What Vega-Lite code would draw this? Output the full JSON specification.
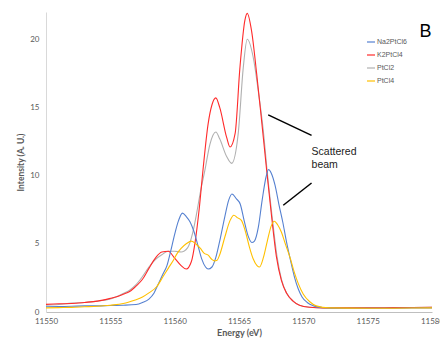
{
  "$schema": "https://vega.github.io/schema/vega-lite/v6.json",
  "autosize": {"type": "none"},
  "padding": {"left": 46, "top": 12, "right": 8, "bottom": 29},
  "width": 386,
  "height": 300,
  "background": "white",
  "config": {
    "view": {"stroke": null},
    "font": "Lato",
    "axis": {"grid": false, "ticks": false, "labelColor": "#595959", "titleColor": "#595959", "labelFontSize": 8, "titleFontSize": 8.5, "titleFontWeight": "bold"}
  },
  "datasets": {
    "spectra": [
      {"E": 11550, "I": 0.38, "s": "Na2PtCl6"}, {"E": 11551, "I": 0.4, "s": "Na2PtCl6"}, {"E": 11552, "I": 0.42, "s": "Na2PtCl6"}, {"E": 11553, "I": 0.45, "s": "Na2PtCl6"}, {"E": 11554, "I": 0.45, "s": "Na2PtCl6"}, {"E": 11555, "I": 0.48, "s": "Na2PtCl6"}, {"E": 11556, "I": 0.5, "s": "Na2PtCl6"}, {"E": 11557, "I": 0.55, "s": "Na2PtCl6"}, {"E": 11557.5, "I": 0.7, "s": "Na2PtCl6"}, {"E": 11558, "I": 0.95, "s": "Na2PtCl6"}, {"E": 11558.4, "I": 1.4, "s": "Na2PtCl6"}, {"E": 11558.7, "I": 2.0, "s": "Na2PtCl6"}, {"E": 11559.1, "I": 2.8, "s": "Na2PtCl6"}, {"E": 11559.4, "I": 3.4, "s": "Na2PtCl6"}, {"E": 11559.7, "I": 4.5, "s": "Na2PtCl6"}, {"E": 11560, "I": 5.7, "s": "Na2PtCl6"}, {"E": 11560.3, "I": 6.7, "s": "Na2PtCl6"}, {"E": 11560.6, "I": 7.25, "s": "Na2PtCl6"}, {"E": 11560.9, "I": 7.0, "s": "Na2PtCl6"}, {"E": 11561.2, "I": 6.6, "s": "Na2PtCl6"}, {"E": 11561.5, "I": 5.9, "s": "Na2PtCl6"}, {"E": 11561.8, "I": 4.9, "s": "Na2PtCl6"}, {"E": 11562.1, "I": 3.9, "s": "Na2PtCl6"}, {"E": 11562.4, "I": 3.3, "s": "Na2PtCl6"}, {"E": 11562.6, "I": 3.15, "s": "Na2PtCl6"}, {"E": 11562.9, "I": 3.3, "s": "Na2PtCl6"}, {"E": 11563.2, "I": 4.0, "s": "Na2PtCl6"}, {"E": 11563.5, "I": 5.2, "s": "Na2PtCl6"}, {"E": 11563.9, "I": 7.0, "s": "Na2PtCl6"}, {"E": 11564.2, "I": 8.2, "s": "Na2PtCl6"}, {"E": 11564.45, "I": 8.65, "s": "Na2PtCl6"}, {"E": 11564.8, "I": 8.3, "s": "Na2PtCl6"}, {"E": 11565.1, "I": 7.9, "s": "Na2PtCl6"}, {"E": 11565.4, "I": 6.7, "s": "Na2PtCl6"}, {"E": 11565.7, "I": 5.6, "s": "Na2PtCl6"}, {"E": 11566.0, "I": 5.1, "s": "Na2PtCl6"}, {"E": 11566.2, "I": 5.2, "s": "Na2PtCl6"}, {"E": 11566.5, "I": 6.2, "s": "Na2PtCl6"}, {"E": 11566.8, "I": 8.2, "s": "Na2PtCl6"}, {"E": 11567.1, "I": 9.9, "s": "Na2PtCl6"}, {"E": 11567.3, "I": 10.45, "s": "Na2PtCl6"}, {"E": 11567.5, "I": 10.2, "s": "Na2PtCl6"}, {"E": 11567.8, "I": 9.3, "s": "Na2PtCl6"}, {"E": 11568.1, "I": 7.9, "s": "Na2PtCl6"}, {"E": 11568.4, "I": 6.6, "s": "Na2PtCl6"}, {"E": 11568.7, "I": 5.1, "s": "Na2PtCl6"}, {"E": 11569.0, "I": 3.8, "s": "Na2PtCl6"}, {"E": 11569.3, "I": 2.6, "s": "Na2PtCl6"}, {"E": 11569.6, "I": 1.7, "s": "Na2PtCl6"}, {"E": 11569.9, "I": 1.1, "s": "Na2PtCl6"}, {"E": 11570.3, "I": 0.7, "s": "Na2PtCl6"}, {"E": 11570.8, "I": 0.45, "s": "Na2PtCl6"}, {"E": 11571.5, "I": 0.32, "s": "Na2PtCl6"}, {"E": 11573, "I": 0.27, "s": "Na2PtCl6"}, {"E": 11575, "I": 0.27, "s": "Na2PtCl6"}, {"E": 11577, "I": 0.28, "s": "Na2PtCl6"}, {"E": 11580, "I": 0.3, "s": "Na2PtCl6"},

      {"E": 11550, "I": 0.56, "s": "K2PtCl4"}, {"E": 11551, "I": 0.6, "s": "K2PtCl4"}, {"E": 11552, "I": 0.62, "s": "K2PtCl4"}, {"E": 11553, "I": 0.7, "s": "K2PtCl4"}, {"E": 11554, "I": 0.8, "s": "K2PtCl4"}, {"E": 11555, "I": 1.0, "s": "K2PtCl4"}, {"E": 11555.5, "I": 1.12, "s": "K2PtCl4"}, {"E": 11556, "I": 1.3, "s": "K2PtCl4"}, {"E": 11556.5, "I": 1.5, "s": "K2PtCl4"}, {"E": 11557, "I": 1.9, "s": "K2PtCl4"}, {"E": 11557.5, "I": 2.4, "s": "K2PtCl4"}, {"E": 11558, "I": 3.2, "s": "K2PtCl4"}, {"E": 11558.5, "I": 3.95, "s": "K2PtCl4"}, {"E": 11559, "I": 4.4, "s": "K2PtCl4"}, {"E": 11559.5, "I": 4.45, "s": "K2PtCl4"}, {"E": 11560, "I": 3.95, "s": "K2PtCl4"}, {"E": 11560.5, "I": 3.4, "s": "K2PtCl4"}, {"E": 11560.9, "I": 3.15, "s": "K2PtCl4"}, {"E": 11561.3, "I": 3.7, "s": "K2PtCl4"}, {"E": 11561.6, "I": 5.2, "s": "K2PtCl4"}, {"E": 11561.9, "I": 7.5, "s": "K2PtCl4"}, {"E": 11562.2, "I": 10.4, "s": "K2PtCl4"}, {"E": 11562.6, "I": 13.8, "s": "K2PtCl4"}, {"E": 11562.9, "I": 15.2, "s": "K2PtCl4"}, {"E": 11563.2, "I": 15.7, "s": "K2PtCl4"}, {"E": 11563.5, "I": 15.0, "s": "K2PtCl4"}, {"E": 11564.04, "I": 12.8, "s": "K2PtCl4"}, {"E": 11564.3, "I": 12.1, "s": "K2PtCl4"}, {"E": 11564.7, "I": 13.1, "s": "K2PtCl4"}, {"E": 11565.07, "I": 17.9, "s": "K2PtCl4"}, {"E": 11565.46, "I": 21.4, "s": "K2PtCl4"}, {"E": 11565.64, "I": 21.9, "s": "K2PtCl4"}, {"E": 11565.98, "I": 20.6, "s": "K2PtCl4"}, {"E": 11566.37, "I": 17.5, "s": "K2PtCl4"}, {"E": 11566.76, "I": 14.0, "s": "K2PtCl4"}, {"E": 11567.15, "I": 10.4, "s": "K2PtCl4"}, {"E": 11567.5, "I": 7.3, "s": "K2PtCl4"}, {"E": 11567.9, "I": 4.1, "s": "K2PtCl4"}, {"E": 11568.3, "I": 2.3, "s": "K2PtCl4"}, {"E": 11568.7, "I": 1.37, "s": "K2PtCl4"}, {"E": 11569.2, "I": 0.8, "s": "K2PtCl4"}, {"E": 11569.7, "I": 0.5, "s": "K2PtCl4"}, {"E": 11570.5, "I": 0.35, "s": "K2PtCl4"}, {"E": 11571.5, "I": 0.3, "s": "K2PtCl4"}, {"E": 11573, "I": 0.3, "s": "K2PtCl4"}, {"E": 11575, "I": 0.3, "s": "K2PtCl4"}, {"E": 11577, "I": 0.32, "s": "K2PtCl4"}, {"E": 11580, "I": 0.35, "s": "K2PtCl4"},

      {"E": 11550, "I": 0.5, "s": "PtCl2"}, {"E": 11551, "I": 0.55, "s": "PtCl2"}, {"E": 11552, "I": 0.65, "s": "PtCl2"}, {"E": 11553, "I": 0.7, "s": "PtCl2"}, {"E": 11554, "I": 0.8, "s": "PtCl2"}, {"E": 11555, "I": 0.95, "s": "PtCl2"}, {"E": 11556, "I": 1.35, "s": "PtCl2"}, {"E": 11556.5, "I": 1.6, "s": "PtCl2"}, {"E": 11557, "I": 2.0, "s": "PtCl2"}, {"E": 11557.5, "I": 2.6, "s": "PtCl2"}, {"E": 11558, "I": 3.3, "s": "PtCl2"}, {"E": 11558.5, "I": 3.85, "s": "PtCl2"}, {"E": 11559, "I": 4.2, "s": "PtCl2"}, {"E": 11559.5, "I": 4.45, "s": "PtCl2"}, {"E": 11560, "I": 4.45, "s": "PtCl2"}, {"E": 11560.5, "I": 4.4, "s": "PtCl2"}, {"E": 11561, "I": 4.7, "s": "PtCl2"}, {"E": 11561.4, "I": 5.8, "s": "PtCl2"}, {"E": 11561.7, "I": 7.2, "s": "PtCl2"}, {"E": 11562.0, "I": 8.8, "s": "PtCl2"}, {"E": 11562.35, "I": 10.4, "s": "PtCl2"}, {"E": 11562.74, "I": 12.3, "s": "PtCl2"}, {"E": 11563.2, "I": 13.2, "s": "PtCl2"}, {"E": 11563.5, "I": 12.7, "s": "PtCl2"}, {"E": 11564.04, "I": 11.4, "s": "PtCl2"}, {"E": 11564.43, "I": 10.9, "s": "PtCl2"}, {"E": 11564.94, "I": 13.1, "s": "PtCl2"}, {"E": 11565.33, "I": 17.9, "s": "PtCl2"}, {"E": 11565.64, "I": 20.0, "s": "PtCl2"}, {"E": 11566.1, "I": 18.7, "s": "PtCl2"}, {"E": 11566.5, "I": 16.2, "s": "PtCl2"}, {"E": 11566.9, "I": 13.2, "s": "PtCl2"}, {"E": 11567.2, "I": 10.2, "s": "PtCl2"}, {"E": 11567.55, "I": 7.2, "s": "PtCl2"}, {"E": 11567.95, "I": 4.1, "s": "PtCl2"}, {"E": 11568.3, "I": 2.4, "s": "PtCl2"}, {"E": 11568.7, "I": 1.4, "s": "PtCl2"}, {"E": 11569.2, "I": 0.8, "s": "PtCl2"}, {"E": 11569.7, "I": 0.5, "s": "PtCl2"}, {"E": 11570.5, "I": 0.35, "s": "PtCl2"}, {"E": 11572, "I": 0.3, "s": "PtCl2"}, {"E": 11575, "I": 0.3, "s": "PtCl2"}, {"E": 11577, "I": 0.32, "s": "PtCl2"}, {"E": 11580, "I": 0.35, "s": "PtCl2"},

      {"E": 11550, "I": 0.3, "s": "PtCl4"}, {"E": 11551, "I": 0.32, "s": "PtCl4"}, {"E": 11552, "I": 0.34, "s": "PtCl4"}, {"E": 11553, "I": 0.38, "s": "PtCl4"}, {"E": 11554, "I": 0.42, "s": "PtCl4"}, {"E": 11555, "I": 0.5, "s": "PtCl4"}, {"E": 11556, "I": 0.62, "s": "PtCl4"}, {"E": 11556.5, "I": 0.75, "s": "PtCl4"}, {"E": 11557, "I": 0.9, "s": "PtCl4"}, {"E": 11557.5, "I": 1.1, "s": "PtCl4"}, {"E": 11558, "I": 1.4, "s": "PtCl4"}, {"E": 11558.6, "I": 1.85, "s": "PtCl4"}, {"E": 11559.1, "I": 2.6, "s": "PtCl4"}, {"E": 11559.5, "I": 3.2, "s": "PtCl4"}, {"E": 11559.9, "I": 3.8, "s": "PtCl4"}, {"E": 11560.2, "I": 4.3, "s": "PtCl4"}, {"E": 11560.5, "I": 4.66, "s": "PtCl4"}, {"E": 11560.9, "I": 5.0, "s": "PtCl4"}, {"E": 11561.3, "I": 5.2, "s": "PtCl4"}, {"E": 11561.7, "I": 4.95, "s": "PtCl4"}, {"E": 11562.0, "I": 4.66, "s": "PtCl4"}, {"E": 11562.3, "I": 4.3, "s": "PtCl4"}, {"E": 11562.6, "I": 4.17, "s": "PtCl4"}, {"E": 11562.9, "I": 3.85, "s": "PtCl4"}, {"E": 11563.1, "I": 3.75, "s": "PtCl4"}, {"E": 11563.3, "I": 3.8, "s": "PtCl4"}, {"E": 11563.5, "I": 4.2, "s": "PtCl4"}, {"E": 11563.9, "I": 5.5, "s": "PtCl4"}, {"E": 11564.3, "I": 6.7, "s": "PtCl4"}, {"E": 11564.6, "I": 7.1, "s": "PtCl4"}, {"E": 11564.9, "I": 6.9, "s": "PtCl4"}, {"E": 11565.2, "I": 6.7, "s": "PtCl4"}, {"E": 11565.5, "I": 5.9, "s": "PtCl4"}, {"E": 11565.8, "I": 4.8, "s": "PtCl4"}, {"E": 11566.1, "I": 3.9, "s": "PtCl4"}, {"E": 11566.4, "I": 3.4, "s": "PtCl4"}, {"E": 11566.6, "I": 3.3, "s": "PtCl4"}, {"E": 11566.9, "I": 4.0, "s": "PtCl4"}, {"E": 11567.2, "I": 5.2, "s": "PtCl4"}, {"E": 11567.5, "I": 6.3, "s": "PtCl4"}, {"E": 11567.75, "I": 6.65, "s": "PtCl4"}, {"E": 11568.0, "I": 6.4, "s": "PtCl4"}, {"E": 11568.3, "I": 5.85, "s": "PtCl4"}, {"E": 11568.6, "I": 5.0, "s": "PtCl4"}, {"E": 11569.0, "I": 3.9, "s": "PtCl4"}, {"E": 11569.3, "I": 2.9, "s": "PtCl4"}, {"E": 11569.6, "I": 2.1, "s": "PtCl4"}, {"E": 11570.0, "I": 1.3, "s": "PtCl4"}, {"E": 11570.5, "I": 0.75, "s": "PtCl4"}, {"E": 11571, "I": 0.45, "s": "PtCl4"}, {"E": 11572, "I": 0.3, "s": "PtCl4"}, {"E": 11575, "I": 0.27, "s": "PtCl4"}, {"E": 11577, "I": 0.28, "s": "PtCl4"}, {"E": 11580, "I": 0.3, "s": "PtCl4"}
    ],
    "arrows": [
      {"x1": 11567.27, "y1": 14.46, "x2": 11570.64, "y2": 12.95},
      {"x1": 11568.44, "y1": 7.83, "x2": 11570.64, "y2": 9.46}
    ],
    "notes": [
      {"E": 11570.64, "I": 11.5, "label": "Scattered\nbeam"}
    ],
    "panel": [
      {"E": 11579.5, "I": 20.5, "label": "B"}
    ]
  },
  "layer": [
    {
      "data": {"name": "spectra"},
      "encoding": {
        "x": {"field": "E", "type": "quantitative", "title": "Energy (eV)",
              "scale": {"domain": [11550, 11580], "nice": false, "zero": false},
              "axis": {"values": [11550, 11555, 11560, 11565, 11570, 11575, 11580], "format": "d", "domainColor": "#bfbfbf", "labelPadding": 5, "titlePadding": 3, "labelFlush": false, "titleFontSize": 9}},
        "y": {"field": "I", "type": "quantitative", "title": "Intensity (A. U.)",
              "scale": {"domain": [0, 22], "nice": false},
              "axis": {"values": [0, 5, 10, 15, 20], "domainColor": "#d9d9d9", "labelPadding": 7, "titlePadding": 4}},
        "color": {"field": "s", "type": "nominal",
                  "scale": {"domain": ["Na2PtCl6", "K2PtCl4", "PtCl2", "PtCl4"], "range": ["#5580d0", "#ff2a2a", "#b0b0b0", "#ffc000"]},
                  "legend": {"title": null, "orient": "none", "legendX": 320, "legendY": 25, "symbolType": "stroke", "symbolSize": 64, "symbolStrokeWidth": 1.2, "labelFontSize": 7, "labelColor": "#595959", "labelOffset": 1, "rowPadding": 5, "padding": 0, "labelFont": "Liberation Sans"}}
      },
      "layer": [
        {"transform": [{"filter": "datum.s === 'PtCl2'"}], "mark": {"type": "line", "strokeWidth": 1.1, "interpolate": "monotone"}},
        {"transform": [{"filter": "datum.s === 'K2PtCl4'"}], "mark": {"type": "line", "strokeWidth": 1.1, "interpolate": "monotone"}},
        {"transform": [{"filter": "datum.s === 'Na2PtCl6'"}], "mark": {"type": "line", "strokeWidth": 1.1, "interpolate": "monotone"}},
        {"transform": [{"filter": "datum.s === 'PtCl4'"}], "mark": {"type": "line", "strokeWidth": 1.1, "interpolate": "monotone"}}
      ]
    },
    {
      "data": {"name": "arrows"},
      "mark": {"type": "rule", "color": "black", "strokeWidth": 1.5},
      "encoding": {
        "x": {"field": "x1", "type": "quantitative"},
        "y": {"field": "y1", "type": "quantitative"},
        "x2": {"field": "x2"},
        "y2": {"field": "y2"}
      }
    },
    {
      "data": {"name": "notes"},
      "mark": {"type": "text", "align": "left", "baseline": "alphabetic", "fontSize": 10.5, "font": "Liberation Sans", "color": "#222222", "lineBreak": "\n", "lineHeight": 12.5},
      "encoding": {
        "x": {"field": "E", "type": "quantitative"},
        "y": {"field": "I", "type": "quantitative"},
        "text": {"field": "label"}
      }
    },
    {
      "data": {"name": "panel"},
      "mark": {"type": "text", "align": "center", "baseline": "middle", "fontSize": 18, "font": "Liberation Sans", "color": "black"},
      "encoding": {
        "x": {"field": "E", "type": "quantitative"},
        "y": {"field": "I", "type": "quantitative"},
        "text": {"field": "label"}
      }
    }
  ]
}
